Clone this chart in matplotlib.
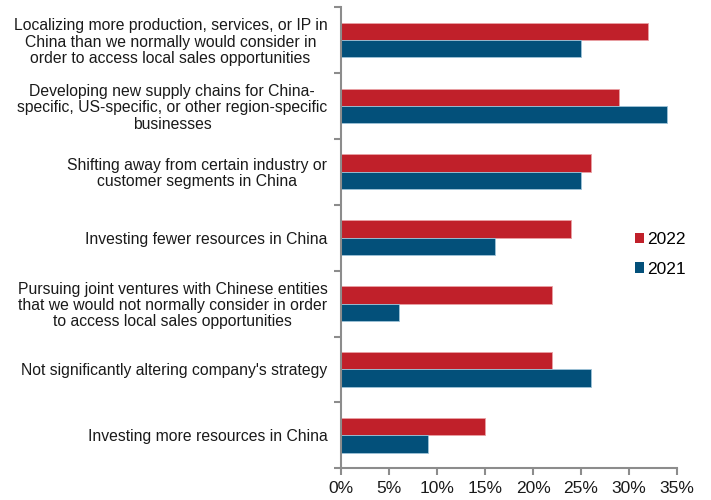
import numpy as np
import matplotlib.pyplot as plt
from matplotlib.patches import Patch
from matplotlib.ticker import FixedLocator, PercentFormatter

plt.rcParams['font.family'] = ['Liberation Sans', 'DejaVu Sans']

categories = [
    "Localizing more production, services, or IP in\nChina than we normally would consider in\norder to access local sales opportunities",
    "Developing new supply chains for China-\nspecific, US-specific, or other region-specific\nbusinesses",
    "Shifting away from certain industry or\ncustomer segments in China",
    "Investing fewer resources in China",
    "Pursuing joint ventures with Chinese entities\nthat we would not normally consider in order\nto access local sales opportunities",
    "Not significantly altering company's strategy",
    "Investing more resources in China",
]
values_2022 = [32, 29, 26, 24, 22, 22, 15]
values_2021 = [25, 34, 25, 16, 6, 26, 9]

RED = '#C0202A'
BLUE = '#03507A'
AXIS_GREY = '#8C8C8C'

fig = plt.figure(figsize=(7.11, 5.0), dpi=100)
ax = fig.add_axes([0.48, 0.0634, 0.472, 0.9226])

y = np.arange(len(categories))
h = 0.263
ax.barh(y - h / 2, values_2022, height=h, color=RED, edgecolor='#E9A0A4', linewidth=0.6)
ax.barh(y + h / 2, values_2021, height=h, color=BLUE, edgecolor='#9EC3D8', linewidth=0.6)

ax.set_ylim(len(categories) - 0.5, -0.5)
ax.set_xlim(0, 35)
ax.set_xticks(np.arange(0, 36, 5))
ax.xaxis.set_major_formatter(PercentFormatter(decimals=0))

ax.set_yticks(y)
ax.set_yticklabels(categories, fontsize=11.3, multialignment='center', linespacing=1.1)
ax.yaxis.set_minor_locator(FixedLocator(np.arange(-0.5, len(categories), 1)))
ax.tick_params(axis='y', which='major', length=0, pad=10, colors='#1a1a1a')
ax.tick_params(axis='y', which='minor', length=5, width=1.5, color=AXIS_GREY)
ax.tick_params(axis='x', length=5, width=1.5, color=AXIS_GREY, labelsize=12.5,
               labelcolor='#1a1a1a', pad=4)

for side in ('top', 'right'):
    ax.spines[side].set_visible(False)
for side in ('left', 'bottom'):
    ax.spines[side].set_color(AXIS_GREY)
    ax.spines[side].set_linewidth(1.5)

handles = [Patch(facecolor=RED, label='2022'), Patch(facecolor=BLUE, label='2021')]
ax.legend(handles=handles, loc='center left', bbox_to_anchor=(0.83, 0.464),
          frameon=False, fontsize=12.5, handlelength=0.5, handleheight=0.55,
          handletextpad=0.2, labelspacing=0.85)

fig.savefig('out.png', dpi=100)
